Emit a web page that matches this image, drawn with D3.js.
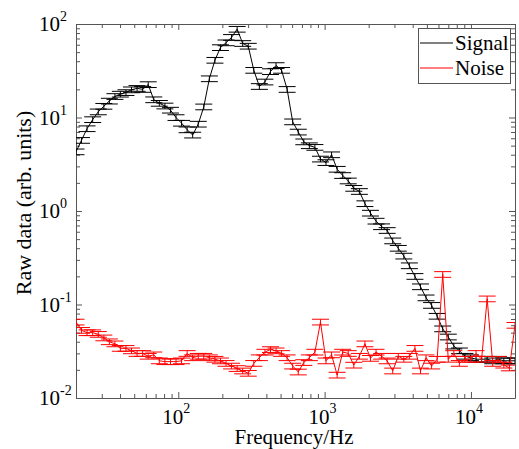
<!DOCTYPE html>
<html>
<head>
<meta charset="utf-8">
<script src="https://cdn.jsdelivr.net/npm/d3@7"></script>
</head>
<body style="margin:0">
<svg width="519" height="449"></svg>
<script>
// frequencies (Hz), log spaced 20 Hz .. 20 kHz
const freq = [20, 21.8, 23.8, 26.0, 28.4, 31.0, 33.8, 36.9, 40.2, 43.9,
  47.9, 52.3, 57.1, 62.3, 68.0, 74.2, 81.0, 88.4, 96.5, 105.3,
  114.9, 125.4, 136.9, 149.4, 163.1, 178.0, 194.2, 212.0, 231.3, 252.5,
  275.5, 300.7, 328.2, 358.2, 390.9, 426.6, 465.6, 508.1, 554.5, 605.2,
  660.5, 720.8, 786.6, 858.5, 936.9, 1022, 1116, 1218, 1329, 1450,
  1583, 1728, 1886, 2058, 2246, 2451, 2675, 2920, 3187, 3478,
  3795, 4142, 4520, 4933, 5384, 5876, 6413, 6999, 7638, 8336,
  9098, 9929, 10836, 11826, 12906, 14085, 15372, 16776, 18309, 20000];

const signal = [4.3, 5.7, 7.6, 9.5, 11.5, 13.2, 15.0, 16.8, 17.8, 18.5,
  19.8, 20.5, 20.0, 22.5, 15.5, 14.2, 13.3, 12.0, 10.0, 8.7,
  7.4, 6.5, 8.5, 13.0, 26, 41, 56, 63, 72, 88,
  62, 58, 32, 21.5, 24, 31, 36, 32, 20, 9.0,
  7.0, 5.5, 5.0, 4.8, 3.6, 3.3, 4.0, 2.8, 2.4, 2.1,
  1.75, 1.62, 1.2, 0.95, 0.78, 0.68, 0.62, 0.48, 0.40, 0.33,
  0.26, 0.20, 0.155, 0.118, 0.098, 0.075, 0.055, 0.045, 0.036, 0.032,
  0.028, 0.027, 0.026, 0.026, 0.026, 0.025, 0.026, 0.025, 0.025, 0.025];

const noise = [0.065, 0.053, 0.050, 0.050, 0.048, 0.044, 0.040, 0.038, 0.034, 0.034,
  0.032, 0.030, 0.030, 0.028, 0.029, 0.025, 0.0245, 0.0245, 0.0245, 0.025,
  0.030, 0.027, 0.028, 0.028, 0.027, 0.026, 0.025, 0.0235, 0.022, 0.0207,
  0.0195, 0.0184, 0.0235, 0.027, 0.031, 0.033, 0.032, 0.030, 0.027, 0.022,
  0.019, 0.024, 0.027, 0.031, 0.065, 0.025, 0.029, 0.0176, 0.031, 0.030,
  0.0225, 0.028, 0.038, 0.0266, 0.031, 0.028, 0.025, 0.0195, 0.028, 0.026,
  0.028, 0.034, 0.0195, 0.027, 0.022, 0.026, 0.21, 0.026, 0.030, 0.0235,
  0.026, 0.026, 0.030, 0.026, 0.115, 0.0235, 0.026, 0.0225, 0.021, 0.06];

const relErr = 0.07;
const xMajor = [100, 1000, 10000];
const xMajorExp = ["2", "3", "4"];
const yMajor = [0.01, 0.1, 1, 10, 100];
const yMajorExp = ["-2", "-1", "0", "1", "2"];
const seriesNames = ["Signal", "Noise"];
const seriesColors = ["#000000", "#ff0000"];

const serif = "'Liberation Serif'";

let svg = d3.select("svg"),
  pLeft = 76, pRight = 515, pTop = 24, pBottom = 398;

let x = d3.scaleLog().domain([20, 20000]).range([pLeft, pRight]);
let y = d3.scaleLog().domain([0.01, 100]).range([pBottom, pTop]);

let isMajor = v => Math.abs(Math.log10(v) - Math.round(Math.log10(v))) < 1e-6;

// axes, ticks inward on all four sides
function styleTicks(g, major, minor) {
  g.select(".domain").attr("stroke", "#555");
  g.selectAll(".tick line").attr("stroke", "#555");
  g.selectAll(".tick").each(function (d) {
    let ln = d3.select(this).select("line");
    let k = isMajor(d) ? major : minor;
    if (ln.attr("y2") !== null && +ln.attr("y2") !== 0) ln.attr("y2", k * Math.sign(+ln.attr("y2")));
    if (ln.attr("x2") !== null && +ln.attr("x2") !== 0) ln.attr("x2", k * Math.sign(+ln.attr("x2")));
  });
  g.selectAll(".tick text").remove();
}

svg.append("g").attr("transform", "translate(0," + pBottom + ")")
  .call(d3.axisBottom(x).tickValues(x.ticks()).tickSize(-4).tickSizeOuter(0))
  .call(g => styleTicks(g, 6, 4));
svg.append("g").attr("transform", "translate(0," + pTop + ")")
  .call(d3.axisTop(x).tickValues(x.ticks()).tickSize(-4).tickSizeOuter(0))
  .call(g => styleTicks(g, 6, 4));
svg.append("g").attr("transform", "translate(" + pLeft + ",0)")
  .call(d3.axisLeft(y).tickValues(y.ticks()).tickSize(-4).tickSizeOuter(0))
  .call(g => styleTicks(g, 6, 4));
svg.append("g").attr("transform", "translate(" + pRight + ",0)")
  .call(d3.axisRight(y).tickValues(y.ticks()).tickSize(-4).tickSizeOuter(0))
  .call(g => styleTicks(g, 6, 4));

// tick labels 10^n
xMajor.forEach(function (v, i) {
  let t = svg.append("text")
    .attr("x", x(v) - 2)
    .attr("y", 424)
    .attr("text-anchor", "middle")
    .style("font-family", serif)
    .attr("font-size", "21px");
  t.append("tspan").text("10");
  t.append("tspan").attr("dy", -11).attr("font-size", "14px").text(xMajorExp[i]);
});
yMajor.forEach(function (v, i) {
  let t = svg.append("text")
    .attr("x", 39)
    .attr("y", y(v) + 7)
    .style("font-family", serif)
    .attr("font-size", "21px");
  t.append("tspan").text("10");
  t.append("tspan").attr("dy", -10).attr("font-size", "14px").text(yMajorExp[i]);
});

svg.append("text")
  .attr("x", 294)
  .attr("y", 444)
  .attr("text-anchor", "middle")
  .style("font-family", serif)
  .attr("font-size", "21px")
  .text("Frequency/Hz");

svg.append("text")
  .attr("transform", "translate(31,203) rotate(-90)")
  .attr("text-anchor", "middle")
  .style("font-family", serif)
  .attr("font-size", "22px")
  .text("Raw data (arb. units)");

// data with error bars
svg.append("clipPath").attr("id", "plotclip")
  .append("rect").attr("x", pLeft).attr("y", pTop)
  .attr("width", pRight - pLeft).attr("height", pBottom - pTop);
let plot = svg.append("g").attr("clip-path", "url(#plotclip)");

let line = d3.line().x(d => x(d[0])).y(d => y(d[1]));
let cap = 8.5;

function drawSeries(values, color) {
  let pts = freq.map((f, i) => [f, values[i]]);
  let g = plot.append("g").attr("stroke", color).attr("fill", "none").attr("stroke-width", 1);
  g.selectAll(".err")
    .data(pts)
    .enter()
    .append("path")
    .attr("d", function (d) {
      let px = x(d[0]), hi = y(d[1] * (1 + relErr)), lo = y(d[1] * (1 - relErr));
      return "M" + px + "," + hi + "V" + lo +
        "M" + (px - cap) + "," + hi + "H" + (px + cap) +
        "M" + (px - cap) + "," + lo + "H" + (px + cap);
    });
  g.append("path").datum(pts).attr("d", line);
}

drawSeries(signal, seriesColors[0]);
drawSeries(noise, seriesColors[1]);

// legend
let lg = svg.append("g");
lg.append("rect")
  .attr("x", 418.5).attr("y", 28.5).attr("width", 92).attr("height", 55)
  .attr("fill", "#fff").attr("stroke", "#555");
seriesNames.forEach(function (name, i) {
  let yy = 43 + i * 25;
  lg.append("line")
    .attr("x1", 420).attr("x2", 453).attr("y1", yy).attr("y2", yy)
    .attr("stroke", seriesColors[i]).attr("stroke-width", 1);
  lg.append("text")
    .attr("x", 455).attr("y", yy + 7)
    .style("font-family", serif)
    .attr("font-size", "21px")
    .text(name);
});
</script>
</body>
</html>
